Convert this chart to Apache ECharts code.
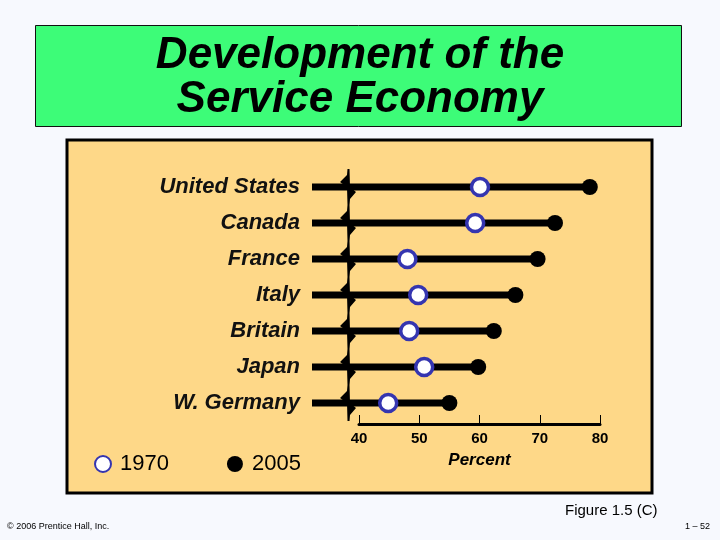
<!DOCTYPE html>
<html lang="en">
  <head>
    <meta charset="UTF-8" />
    <title>Development of the Service Economy</title>
    <script src="https://cdn.jsdelivr.net/npm/echarts@6/dist/echarts.min.js"></script>
    <style>
      html, body { margin: 0; padding: 0; background: #f7f9fe; }
    </style>
  </head>
  <body>
    <div id="main" style="width: 720px; height: 540px"></div>
    <script type="text/javascript">
      const countries = ["United States", "Canada", "France", "Italy", "Britain", "Japan", "W. Germany"];
      const values1970 = [60, 59.2, 47.9, 49.7, 48.2, 50.7, 44.7];
      const values2005 = [78.3, 72.5, 69.6, 65.9, 62.3, 59.7, 54.9];
      const percentTicks = [40, 50, 60, 70, 80];
      const breakAt = 38;

      let myChart = echarts.init(document.getElementById("main"));

      // stems from the left edge of the plot to the 2005 value, plus the axis-break mark
      function renderStem(params, api) {
        const end = api.coord([api.value(0), api.value(1)]);
        const brk = api.coord([breakAt, api.value(1)]);
        const x0 = params.coordSys.x;
        const cx = brk[0], cy = end[1];
        return {
          type: "group",
          children: [
            {
              type: "line",
              shape: { x1: x0, y1: cy, x2: end[0], y2: cy },
              style: { stroke: "#000", lineWidth: 7 },
            },
            {
              type: "polygon",
              shape: {
                points: [
                  [cx - 0.5, cy - 18], [cx + 1.5, cy - 18], [cx + 2, cy],
                  [cx + 8, cy + 5], [cx + 2, cy + 12], [cx + 1.5, cy + 18],
                  [cx - 0.5, cy + 18], [cx - 1, cy], [cx - 8, cy - 5], [cx - 1, cy - 12],
                ],
              },
              style: { fill: "#000" },
            },
          ],
        };
      }

      let options = {
        backgroundColor: "#f7f9fe",
        animation: false,
        graphic: [
          {
            type: "rect",
            shape: { x: 35.5, y: 25.5, width: 646, height: 101 },
            style: { fill: "#3dfc78", stroke: "#111", lineWidth: 1 },
            z: -10,
          },
          {
            type: "rect",
            shape: { x: 67, y: 140, width: 585, height: 353 },
            style: { fill: "#fed888", stroke: "#000", lineWidth: 3 },
            z: -10,
          },
          {
            type: "text",
            left: 565, top: 503,
            style: { text: "Figure 1.5 (C)", font: "15px Arial", fill: "#000" },
          },
          {
            type: "text",
            left: 7, top: 522,
            style: { text: "© 2006 Prentice Hall, Inc.", font: "9px Arial", fill: "#000" },
          },
          {
            type: "text",
            right: 10, top: 522,
            style: { text: "1 – 52", font: "9px Arial", fill: "#000" },
          },
        ],
        title: {
          text: "Development of the\nService Economy",
          left: "center",
          top: 29,
          textStyle: {
            fontFamily: "Arial",
            fontSize: 44,
            fontStyle: "italic",
            fontWeight: "bold",
            color: "#000",
            lineHeight: 44,
            textShadowColor: "rgba(0,0,0,0.35)",
            textShadowOffsetX: 3,
            textShadowOffsetY: 3,
          },
        },
        legend: {
          left: 89,
          top: 448,
          itemGap: 58,
          itemWidth: 24,
          itemHeight: 16,
          data: ["1970", "2005"],
          textStyle: { fontFamily: "Arial", fontSize: 22, color: "#000" },
        },
        grid: [
          { left: 312, right: 120, top: 169, height: 252 },
          { left: 359, right: 120, top: 400, height: 24 },
        ],
        xAxis: [
          { type: "value", gridIndex: 0, min: 32, max: 80, show: false },
          {
            type: "value",
            gridIndex: 1,
            min: percentTicks[0],
            max: percentTicks[percentTicks.length - 1],
            interval: 10,
            splitLine: { show: false },
            axisLine: { show: true, lineStyle: { color: "#000", width: 3 } },
            axisTick: { show: true, inside: true, length: 9, lineStyle: { color: "#000", width: 1 } },
            axisLabel: {
              margin: 7,
              fontFamily: "Arial",
              fontSize: 15,
              fontWeight: "bold",
              color: "#000",
            },
            name: "Percent",
            nameLocation: "middle",
            nameGap: 28,
            nameTextStyle: {
              fontFamily: "Arial",
              fontSize: 17,
              fontStyle: "italic",
              fontWeight: "bold",
              color: "#000",
            },
          },
        ],
        yAxis: [
          {
            type: "category",
            gridIndex: 0,
            inverse: true,
            data: countries,
            axisLine: { show: false },
            axisTick: { show: false },
            splitLine: { show: false },
            axisLabel: {
              margin: 12,
              fontFamily: "Arial",
              fontSize: 22,
              fontStyle: "italic",
              fontWeight: "bold",
              color: "#111",
            },
          },
          { type: "value", gridIndex: 1, show: false },
        ],
        series: [
          {
            type: "custom",
            xAxisIndex: 0,
            yAxisIndex: 0,
            renderItem: renderStem,
            data: values2005.map((v, i) => [v, i]),
            z: 1,
          },
          {
            name: "2005",
            type: "scatter",
            xAxisIndex: 0,
            yAxisIndex: 0,
            symbol: "circle",
            symbolSize: 16,
            itemStyle: { color: "#000", opacity: 1 },
            data: values2005.map((v, i) => [v, i]),
            z: 3,
          },
          {
            name: "1970",
            type: "scatter",
            xAxisIndex: 0,
            yAxisIndex: 0,
            symbol: "circle",
            symbolSize: 17,
            itemStyle: { color: "#fff", borderColor: "#3535b0", borderWidth: 3.5, opacity: 1 },
            data: values1970.map((v, i) => [v, i]),
            z: 4,
          },
        ],
      };

      myChart.setOption(options);
    </script>
  </body>
</html>
